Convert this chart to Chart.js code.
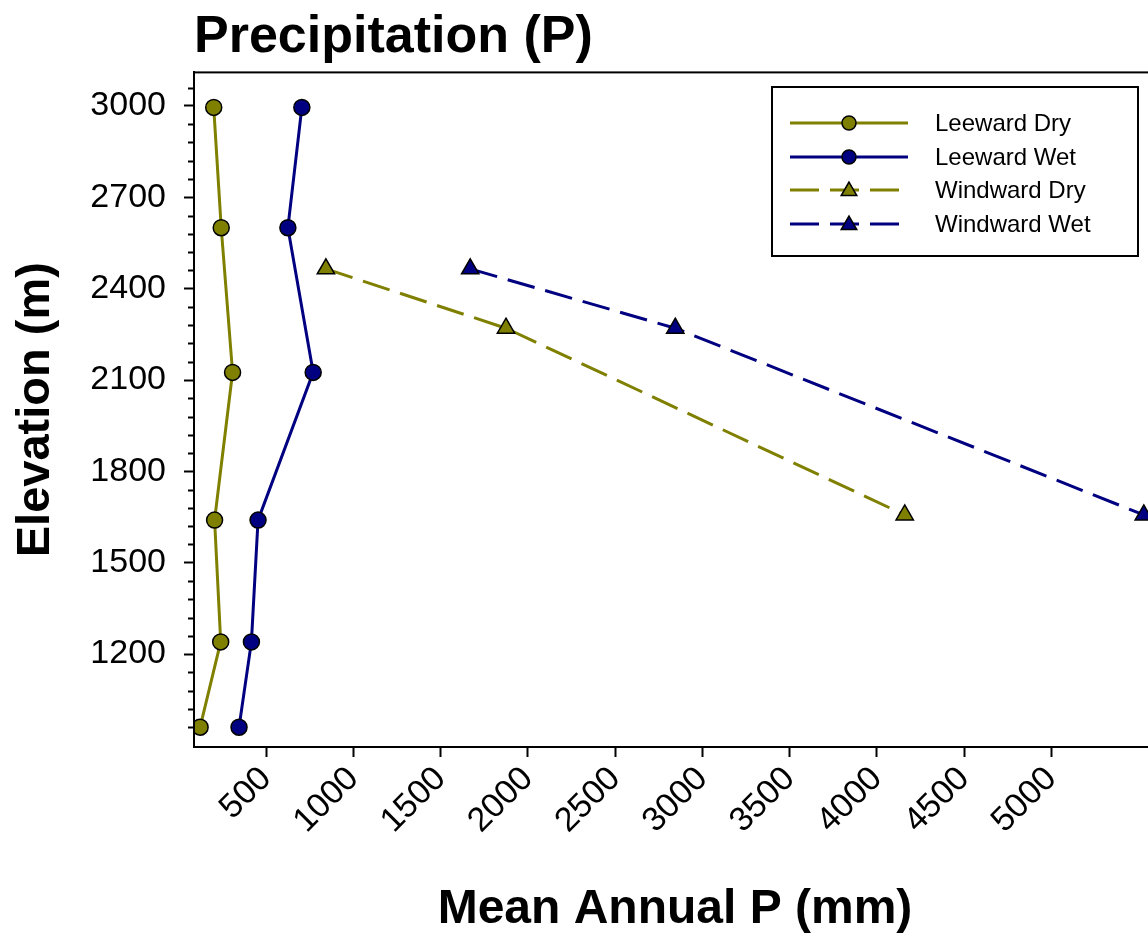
<!DOCTYPE html>
<html>
<head>
<meta charset="utf-8">
<script src="https://cdn.jsdelivr.net/npm/chart.js@4.4.0/dist/chart.umd.min.js"></script>
<style>
html, body { margin:0; padding:0; background:#fff; overflow:hidden; }
#wrap { width:1170px; height:941px; }
</style>
</head>
<body>
<div id="wrap"><canvas id="precip-chart"></canvas></div>
<script>
// elevations (m)
let leewardElev = [2995, 2600, 2125, 1640, 1240, 960];
let windwardElev = [2465, 2270, 1657];

// mean annual P (mm)
let leewardDry = [200, 243, 308, 205, 240, 122];
let leewardWet = [705, 625, 770, 454, 416, 345];
let windwardDry = [843, 1875, 4160];
let windwardWet = [1670, 2845, 5530];

let seriesNames = ['Leeward Dry', 'Leeward Wet', 'Windward Dry', 'Windward Wet'];
let xTicks = [500, 1000, 1500, 2000, 2500, 3000, 3500, 4000, 4500, 5000];
let yTicks = [1200, 1500, 1800, 2100, 2400, 2700, 3000];

const OLIVE = '#808000';
const NAVY = '#000080';
const FONT = "Arial, 'Liberation Sans', sans-serif";

function toPoints(xs, ys){
    return xs.map((v, i) => ({x: v, y: ys[i]}));
}

function makeSet(label, xs, ys, color, style, dashed){
    return {
        label: label,
        data: toPoints(xs, ys),
        showLine: true,
        borderColor: color,
        borderWidth: 3,
        borderDash: dashed ? [28, 11] : [],
        tension: 0,
        pointStyle: style,
        pointRadius: style === 'triangle' ? 10 : 8,
        pointHoverRadius: style === 'triangle' ? 10 : 8,
        pointBackgroundColor: color,
        pointBorderColor: '#000',
        pointBorderWidth: 1.5
    };
}

//frame + minor ticks
const framePlugin = {
    id: 'frame',
    afterDraw(chart){
        let ctx = chart.ctx;
        let a = chart.chartArea;
        let ys = chart.scales.y;
        ctx.save();
        ctx.strokeStyle = '#000';
        ctx.lineWidth = 2;
        ctx.strokeRect(a.left, a.top, a.right - a.left, a.bottom - a.top);
        ctx.beginPath();
        for(let v = 900; v <= 3100; v += 60){
            if(v % 300 === 0) continue;
            if(v < ys.min || v > ys.max) continue;
            let py = Math.round(ys.getPixelForValue(v)) + 0.5;
            ctx.moveTo(a.left, py);
            ctx.lineTo(a.left - 6, py);
        }
        ctx.stroke();
        ctx.restore();
    }
};

//legend box inside the plot
const legendPlugin = {
    id: 'boxLegend',
    afterDraw(chart){
        let ctx = chart.ctx;
        let box = {x: 772, y: 87, w: 366, h: 169};
        let rows = [123, 157, 190, 224];
        ctx.save();
        ctx.fillStyle = '#fff';
        ctx.fillRect(box.x, box.y, box.w, box.h);
        ctx.strokeStyle = '#000';
        ctx.lineWidth = 2;
        ctx.strokeRect(box.x, box.y, box.w, box.h);
        chart.data.datasets.forEach((ds, i) => {
            let y = rows[i];
            ctx.strokeStyle = ds.borderColor;
            ctx.lineWidth = 3;
            ctx.setLineDash(ds.borderDash.length ? [29, 11] : []);
            ctx.beginPath();
            ctx.moveTo(790, y);
            ctx.lineTo(908, y);
            ctx.stroke();
            ctx.setLineDash([]);
            ctx.fillStyle = ds.pointBackgroundColor;
            ctx.strokeStyle = '#000';
            ctx.lineWidth = 1.5;
            Chart.helpers.drawPoint(ctx, {
                pointStyle: ds.pointStyle,
                radius: ds.pointStyle === 'triangle' ? 9 : 7,
                rotation: 0,
                borderWidth: 1.5
            }, 849, ds.pointStyle === 'triangle' ? y + 1 : y);
            ctx.fillStyle = '#000';
            ctx.font = '24px ' + FONT;
            ctx.textAlign = 'left';
            ctx.textBaseline = 'middle';
            ctx.fillText(ds.label, 935, y + 1);
        });
        ctx.restore();
    }
};

let config = {
    type: 'scatter',
    data: {
        datasets: [
            makeSet(seriesNames[0], leewardDry, leewardElev, OLIVE, 'circle', false),
            makeSet(seriesNames[1], leewardWet, leewardElev, NAVY, 'circle', false),
            makeSet(seriesNames[2], windwardDry, windwardElev, OLIVE, 'triangle', true),
            makeSet(seriesNames[3], windwardWet, windwardElev, NAVY, 'triangle', true)
        ]
    },
    options: {
        responsive: true,
        maintainAspectRatio: false,
        animation: false,
        layout: {
            padding: {left: 8, top: 6, right: 14, bottom: 0}
        },
        scales: {
            x: {
                type: 'linear',
                min: 87,
                max: 5600,
                afterBuildTicks: axis => { axis.ticks = xTicks.map(v => ({value: v})); },
                afterFit: scale => { scale.height = 194; },
                ticks: {
                    color: '#000',
                    font: {family: FONT, size: 34},
                    maxRotation: 45,
                    minRotation: 45,
                    padding: 2,
                    callback: v => String(v)
                },
                grid: {
                    drawOnChartArea: false,
                    drawTicks: true,
                    tickLength: 10,
                    tickColor: '#000',
                    tickWidth: 2
                },
                border: {color: '#000', width: 2},
                title: {
                    display: true,
                    text: 'Mean Annual P (mm)',
                    color: '#000',
                    font: {family: FONT, size: 48, weight: 'bold'},
                    padding: {top: 0, bottom: 2}
                }
            },
            y: {
                type: 'linear',
                min: 895,
                max: 3110,
                afterBuildTicks: axis => { axis.ticks = yTicks.map(v => ({value: v})); },
                afterFit: scale => { scale.width = 186; },
                ticks: {
                    color: '#000',
                    font: {family: FONT, size: 34},
                    padding: 18,
                    callback: v => String(v)
                },
                grid: {
                    drawOnChartArea: false,
                    drawTicks: true,
                    tickLength: 10,
                    tickColor: '#000',
                    tickWidth: 2
                },
                border: {color: '#000', width: 2},
                title: {
                    display: true,
                    text: 'Elevation (m)',
                    color: '#000',
                    font: {family: FONT, size: 47, weight: 'bold'},
                    padding: {top: 0, bottom: 0}
                }
            }
        },
        plugins: {
            legend: {display: false},
            tooltip: {enabled: false},
            title: {
                display: true,
                text: 'Precipitation (P)',
                align: 'start',
                fullSize: false,
                color: '#000',
                font: {family: FONT, size: 52, weight: 'bold'},
                padding: {top: 0, bottom: 4}
            }
        }
    },
    plugins: [framePlugin, legendPlugin]
};

new Chart(document.querySelector('#precip-chart'), config);
</script>
</body>
</html>
